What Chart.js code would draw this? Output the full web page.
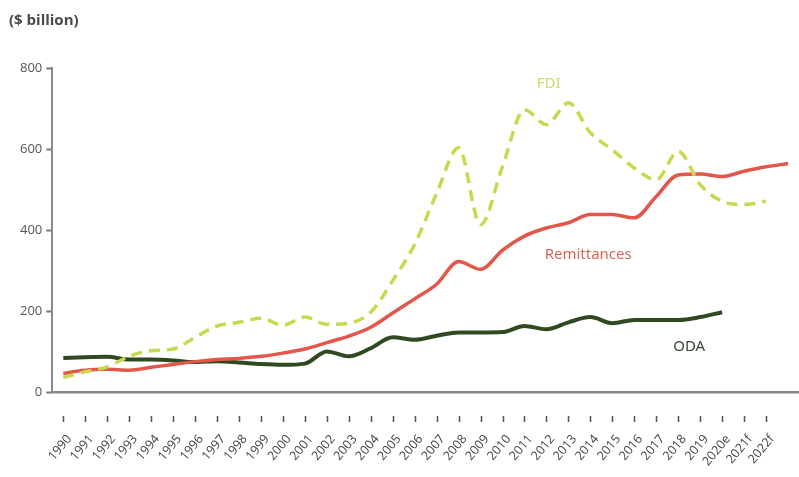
<!DOCTYPE html>
<html>
<head>
<meta charset="utf-8">
<script src="https://cdn.jsdelivr.net/npm/chart.js@4.4.0/dist/chart.umd.min.js"></script>
<style>
  html, body { margin: 0; padding: 0; background: #fff; overflow: hidden; }
  #wrap { position: relative; width: 799px; height: 477px; }
</style>
</head>
<body>
<div id="wrap"><canvas id="flows"></canvas></div>
<script>
// years on the axis; the last slot carries the tail of the remittances line only
const years = ['1990', '1991', '1992', '1993', '1994', '1995', '1996', '1997', '1998', '1999',
    '2000', '2001', '2002', '2003', '2004', '2005', '2006', '2007', '2008', '2009',
    '2010', '2011', '2012', '2013', '2014', '2015', '2016', '2017', '2018', '2019',
    '2020e', '2021f', '2022f', ''];

// $ billion
const remittances = [46, 54, 56, 54, 61, 68, 75, 80, 83, 88,
    96, 106, 122, 138, 160, 195, 230, 266, 322, 303,
    350, 385, 405, 418, 438, 438, 430, 483, 536, 538,
    532, 545, 556, 564];
const fdi = [36, 50, 62, 88, 102, 106, 135, 163, 172, 182,
    165, 185, 167, 170, 197, 275, 365, 490, 603, 413,
    557, 697, 660, 714, 640, 598, 553, 524, 594, 512,
    471, 463, 471, null];
const oda = [84, 86, 87, 80, 80, 78, 74, 76, 73, 69,
    67, 70, 100, 88, 108, 135, 129, 139, 147, 147,
    148, 163, 155, 172, 185, 170, 178, 178, 178, 185,
    197, null, null, null];

const yTicks = [0, 200, 400, 600, 800];

// short year marks hang a little below the axis line, detached from it
const yearMarks = {
    id: 'yearMarks',
    afterDraw(chart) {
        const ctx = chart.ctx;
        const x = chart.scales.x;
        ctx.save();
        ctx.strokeStyle = '#555';
        ctx.lineWidth = 1.5;
        ctx.beginPath();
        for (let i = 0; i < years.length; i++) {
            if (!years[i]) continue;
            const px = Math.round(x.getPixelForTick(i)) + 0.5;
            ctx.moveTo(px, x.top + 24);
            ctx.lineTo(px, x.top + 30);
        }
        ctx.stroke();
        ctx.restore();
    }
};

const seriesLabels = {
    id: 'seriesLabels',
    afterDraw(chart) {
        const ctx = chart.ctx;
        const x = chart.scales.x, y = chart.scales.y;
        ctx.save();
        ctx.textBaseline = 'middle';
        ctx.textAlign = 'left';
        ctx.fillStyle = '#4a4a4a';
        ctx.font = 'bold 15px "Open Sans", sans-serif';
        ctx.fillText('($ billion)', 9, 21);

        ctx.textAlign = 'center';
        ctx.font = '15px "Noto Sans", sans-serif';
        ctx.fillStyle = '#cddc6a';
        ctx.fillText('FDI', x.getPixelForValue(22.1), y.getPixelForValue(762));
        ctx.fillStyle = '#d9655a';
        ctx.fillText('Remittances', x.getPixelForValue(23.9), y.getPixelForValue(340));
        ctx.fillStyle = '#354530';
        ctx.fillText('ODA', x.getPixelForValue(28.5), y.getPixelForValue(111));
        ctx.restore();
    }
};

const config = {
    type: 'line',
    data: {
        labels: years,
        datasets: [{
            label: 'FDI',
            data: fdi,
            borderColor: '#c9d84e',
            borderWidth: 3.5,
            borderDash: [11, 7],
            cubicInterpolationMode: 'monotone',
            pointRadius: 0
        }, {
            label: 'Remittances',
            data: remittances,
            borderColor: '#e2574a',
            borderWidth: 3.5,
            cubicInterpolationMode: 'monotone',
            pointRadius: 0
        }, {
            label: 'ODA',
            data: oda,
            borderColor: '#2f4a1e',
            borderWidth: 4,
            cubicInterpolationMode: 'monotone',
            pointRadius: 0
        }]
    },
    options: {
        responsive: true,
        maintainAspectRatio: false,
        animation: false,
        layout: { padding: { left: 16, right: 0, top: 68, bottom: 0 } },
        plugins: {
            legend: { display: false },
            tooltip: { enabled: false }
        },
        scales: {
            x: {
                offset: true,
                // keep the plot running to the right edge, and fix the band under it
                afterFit: (s) => { s.paddingRight = 0; s.height = 85; },
                border: { color: '#8a8a8a', width: 2.5 },
                grid: {
                    drawOnChartArea: false,
                    drawTicks: false
                },
                ticks: {
                    autoSkip: false,
                    minRotation: 50,
                    maxRotation: 50,
                    padding: 40,
                    labelOffset: 6,
                    color: '#444',
                    font: { size: 12.5, family: '"Open Sans", sans-serif' }
                }
            },
            y: {
                min: 0,
                max: 800,
                afterBuildTicks: (s) => { s.ticks = yTicks.map(v => ({ value: v })); },
                border: { color: '#8a8a8a', width: 2 },
                grid: {
                    drawOnChartArea: false,
                    tickLength: 6,
                    tickWidth: 2,
                    tickColor: '#777'
                },
                ticks: {
                    padding: 4,
                    color: '#555',
                    font: { size: 13, family: '"Open Sans", sans-serif' }
                }
            }
        }
    },
    plugins: [yearMarks, seriesLabels]
};

const flowsChart = new Chart(document.getElementById('flows'), config);
</script>
</body>
</html>
